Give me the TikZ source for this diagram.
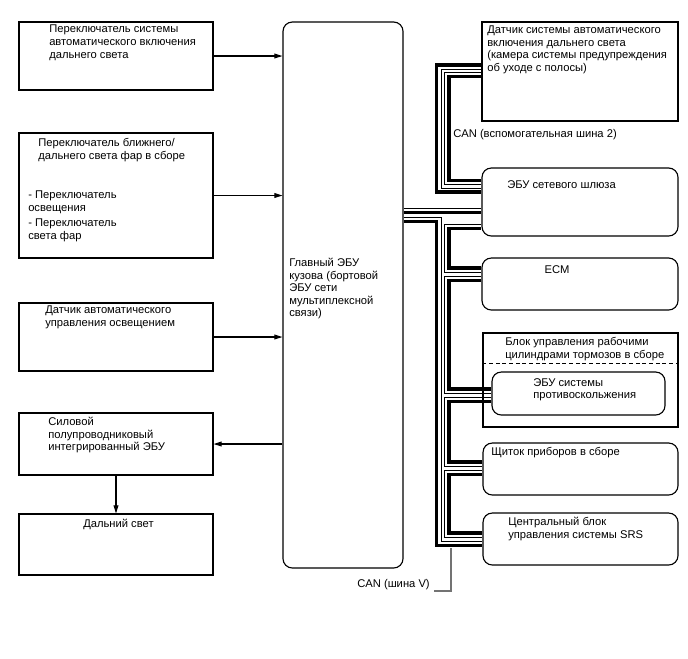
\documentclass[tikz,border=0pt]{standalone}
\usepackage{fontspec}
\setmainfont{Liberation Sans}
\usetikzlibrary{arrows.meta, fit}

\begin{document}
\begin{tikzpicture}[
  x=0.75pt, y=-0.75pt,
  box/.style={draw, line width=0.85pt, inner sep=0pt},
  rbox/.style={box, rounded corners=7pt},
  txt/.style={font=\fontsize{8.4}{9.4}\selectfont, align=left,
    inner sep=0pt, anchor=north west},
  arr/.style={-{Triangle[length=6pt, width=3.6pt]}, line width=0.8pt},
  canh/.style={line width=2.6pt},
  canl/.style={line width=0.7pt},
  lead/.style={line width=0.8pt, black!55}
]
  \useasboundingbox (0,0) rectangle (688,658);

  % Left column
  \node[box, fit={(19,22) (213,90)}] (hbsw) {};
  \node[box, fit={(19,133) (213,258)}] (dimsw) {};
  \node[box, fit={(19,303) (213,371)}] (lsens) {};
  \node[box, fit={(19,413) (213,475)}] (pecu) {};
  \node[box, fit={(19,514) (213,575)}] (hbeam) {};

  \node[txt] (hbswt) at (49,25)
    {Переключатель системы\\автоматического включения\\дальнего света};
  \node[txt] (dimswt) at (38,138)
    {Переключатель ближнего/\\дальнего света фар в сборе};
  \node[txt] (dimswa) at (28,191) {- Переключатель\\освещения};
  \node[txt] (dimswb) at (28,219) {- Переключатель\\света фар};
  \node[txt] (lsenst) at (45,306)
    {Датчик автоматического\\управления освещением};
  \node[txt] (pecut) at (48,417)
    {Силовой\\полупроводниковый\\интегрированный ЭБУ};
  \node[txt] (hbeamt) at (83,519) {Дальний свет};

  % Main body ECU
  \node[rbox, fit={(283,22) (403,568)}] (main) {};
  \node[txt] (maint) at (289,258)
    {Главный ЭБУ\\кузова (бортовой\\ЭБУ сети\\мультиплексной\\связи)};

  % Right column
  \node[box, fit={(482,22) (678,121)}] (cam) {};
  \node[rbox, fit={(482,168) (678,236)}] (gw) {};
  \node[rbox, fit={(482,258) (678,310)}] (ecm) {};
  \node[box, fit={(483,333) (678,427)}] (act) {};
  \node[rbox, fit={(492,372) (665,415)}] (vsc) {};
  \node[rbox, fit={(483,443) (678,495)}] (meter) {};
  \node[rbox, fit={(483,513) (678,565)}] (srs) {};
  \draw[dashed, dash pattern=on 3pt off 2pt, line width=0.7pt]
    (act.west |- 0,363.5) -- (act.east |- 0,363.5);

  \node[txt] (camt) at (487,25.5)
    {Датчик системы автоматического\\включения дальнего света\\(камера системы предупреждения\\об уходе с полосы)};
  \node[txt] (gwt) at (507,180) {ЭБУ сетевого шлюза};
  \node[txt, anchor=center] (ecmt) at (557,270) {ECM};
  \node[txt] (actt) at (505,337)
    {Блок управления рабочими\\цилиндрами тормозов в сборе};
  \node[txt] (vsct) at (533,378) {ЭБУ системы\\противоскольжения};
  \node[txt] (metert) at (491,447) {Щиток приборов в сборе};
  \node[txt] (srst) at (508,517)
    {Центральный блок\\управления системы SRS};

  % Arrows
  \draw[arr] (hbsw.east) -- (hbsw.east -| main.west);
  \draw[arr] (dimsw.east) -- (dimsw.east -| main.west);
  \draw[arr] (lsens.east) -- (lsens.east -| main.west);
  \draw[arr] (pecu.east -| main.west) -- (pecu.east);
  \draw[arr] (pecu) -- (hbeam);

  % CAN sub bus 2
  \draw[canh] (cam.west |- 0,65) -| (436.5,192) -- (gw.west |- 0,192);
  \draw[canl] (cam.west |- 0,69) -| (441,188) -- (gw.west |- 0,188);
  \draw[canl] (cam.west |- 0,72.5) -| (444.5,184.5) -- (gw.west |- 0,184.5);
  \draw[canh] (cam.west |- 0,76.5) -| (449,180.5) -- (gw.west |- 0,180.5);
  \node[txt] (can2) at (453,129) {CAN (вспомогательная шина 2)};

  % CAN V bus
  \draw[canl] (main.east |- 0,208) -- (gw.west |- 0,208);
  \draw[canh] (main.east |- 0,212.5) -- (gw.west |- 0,212.5);
  \draw[canl] (main.east |- 0,217) -| (441,541) -- (srs.west |- 0,541);
  \draw[canh] (main.east |- 0,221.5) -| (436.5,545.5) -- (srs.west |- 0,545.5);
  \foreach \a/\b/\ya/\yb in {gw/ecm/224/268, ecm/vsc/276/389,
      vsc/meter/397/462, meter/srs/470/533} {
    \draw[canl] (\a.west |- 0,\ya) -| (444.5,\yb+4.5) -- (\b.west |- 0,\yb+4.5);
    \draw[canh] (\a.west |- 0,\ya+4.5) -| (449,\yb) -- (\b.west |- 0,\yb);
  }
  \coordinate (vtap) at (451,548);
  \node[txt, anchor=east] (canv) at (430,585) {CAN (шина V)};
  \draw[lead] (vtap) |- ([xshift=3pt]canv.east |- 0,591);
\end{tikzpicture}
\end{document}
